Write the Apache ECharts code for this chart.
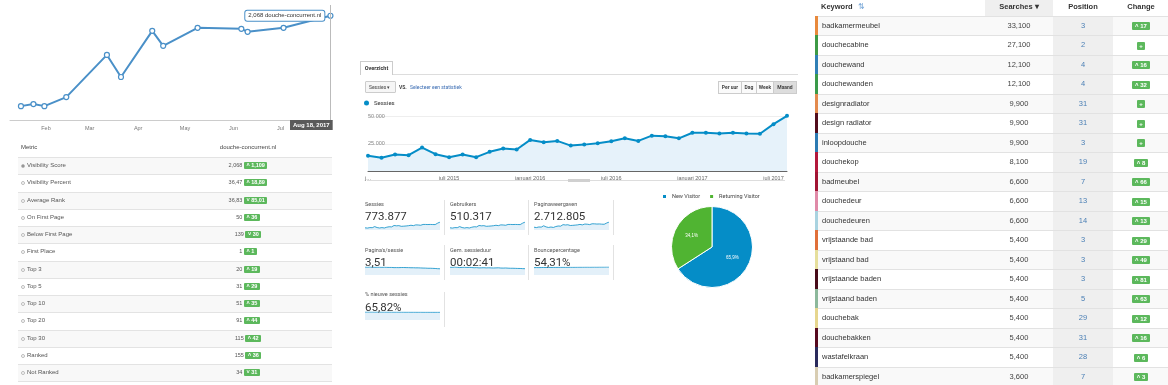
<!DOCTYPE html>
<html><head><meta charset="utf-8">
<script src="https://cdn.jsdelivr.net/npm/echarts@6/dist/echarts.min.js"></script>
<style>
html,body{margin:0;padding:0;background:#fff;width:1168px;height:385px;overflow:hidden;}
#c{position:absolute;left:0;top:0;width:1168px;height:385px;}
#ov{position:absolute;left:0;top:0;width:1168px;height:385px;}
.abs{position:absolute;white-space:nowrap;box-sizing:border-box;}
.ls{font-family:"Liberation Sans",Arial,sans-serif;}
.rb{font-family:Roboto,"Liberation Sans",Arial,sans-serif;}
.badge{display:inline-block;background:#5cb85c;color:#fff;font-weight:bold;border-radius:1px;vertical-align:middle;}
</style></head><body>
<div id="c"></div>
<div id="ov"></div>
<script>
// ---------------- DATA ----------------
// Left: visibility score over time
const visDates  = ['2017-01-16','2017-01-24','2017-01-31','2017-02-14','2017-03-12','2017-03-21','2017-04-10','2017-04-17','2017-05-09','2017-06-06','2017-06-10','2017-07-03','2017-08-02'];
const visScores = [960, 985, 960, 1071, 1588, 1317, 1883, 1699, 1920, 1908, 1871, 1920, 2068];
const visDomain = 'douche-concurrent.nl';
const visPointerLabel = 'Aug 18, 2017';
const monthShort = ['Jan','Feb','Mar','Apr','May','Jun','Jul','Aug','Sep','Oct','Nov','Dec'];

// Left: metric table
const metricNames   = ['Visibility Score','Visibility Percent','Average Rank','On First Page','Below First Page','First Place','Top 3','Top 5','Top 10','Top 20','Top 30','Ranked','Not Ranked'];
const metricValues  = ['2,068','36,47','36,83','50','139','1','20','31','51','91','115','155','34'];
const metricChanges = ['1,109','18,89','85,01','36','30','1','19','29','35','44','42','36','31'];
const metricDirs    = ['up','up','down','up','down','up','up','up','up','up','up','up','down'];

// Middle: sessions per month
const dutchMonths = ['januari','februari','maart','april','mei','juni','juli','augustus','september','oktober','november','december'];
const sessionMonths = [];
for (let y = 2015; y <= 2017; y++) for (let m = 0; m < 12; m++) { if (y === 2017 && m > 7) break; sessionMonths.push(dutchMonths[m] + ' ' + y); }
const sessionValues = [13900,12100,15150,14550,21500,15450,12700,15150,12700,17600,20600,19700,28500,26400,27600,23300,24200,25500,27300,30000,27600,32400,31800,30000,35100,35100,34500,35100,34500,34200,43000,50600];
const sessionYTicks = [0, 25000, 50000];

// Middle: KPI tiles
const tileNames  = ['Sessies','Gebruikers','Paginaweergaven',"Pagina's/sessie",'Gem. sessieduur','Bouncepercentage','% nieuwe sessies'];
const tileValues = ['773.877','510.317','2.712.805','3,51','00:02:41','54,31%','65,82%'];
const sparkGebruikers = [9200,8000,10000,9600,14200,10200,8400,10000,8400,11600,13600,13000,18800,17400,18200,15400,16000,16800,18000,19800,18200,21400,21000,19800,23200,23200,22800,23200,22800,22600,28400,33400];
const sparkPageviews  = [52000,45000,56000,54000,78000,57000,47000,55000,47000,64000,74000,71000,99000,93000,97000,83000,86000,90000,95000,103000,95000,110000,107000,100000,115000,114000,110000,112000,108000,106000,128000,148000];
const sparkPagesPerSession = [3.8,3.7,3.8,3.75,3.65,3.7,3.7,3.65,3.7,3.65,3.6,3.6,3.5,3.52,3.5,3.55,3.55,3.52,3.5,3.45,3.45,3.4,3.4,3.35,3.3,3.28,3.2,3.2,3.15,3.1,3.0,2.95];
const sparkDuration   = [175,170,178,172,165,170,172,168,170,166,162,164,158,160,162,158,160,158,156,158,160,155,154,156,152,150,150,148,146,145,142,140];
const sparkBounce     = [52.0,52.5,52.2,52.6,53.0,52.8,53.2,53.0,53.5,53.6,53.8,54.0,54.2,54.0,54.3,54.5,54.4,54.6,54.8,55.0,54.9,55.2,55.3,55.1,55.4,55.6,55.5,55.8,55.9,56.0,56.2,56.4];
const sparkNewPct     = [67.0,66.8,67.1,66.9,66.5,66.7,66.6,66.4,66.6,66.3,66.2,66.0,65.8,65.9,65.7,65.8,65.6,65.5,65.6,65.4,65.5,65.3,65.2,65.4,65.1,65.0,65.2,65.0,64.9,65.0,65.1,65.2];
const sparkData = [sessionValues, sparkGebruikers, sparkPageviews, sparkPagesPerSession, sparkDuration, sparkBounce, sparkNewPct];

// Middle: visitor pie
const visitorTypes  = ['New Visitor','Returning Visitor'];
const visitorShares = [65.9, 34.1];

// Right: keyword table
const keywords  = ['badkamermeubel','douchecabine','douchewand','douchewanden','designradiator','design radiator','inloopdouche','douchekop','badmeubel','douchedeur','douchedeuren','vrijstaande bad','vrijstaand bad','vrijstaande baden','vrijstaand baden','douchebak','douchebakken','wastafelkraan','badkamerspiegel'];
const searches  = ['33,100','27,100','12,100','12,100','9,900','9,900','9,900','8,100','6,600','6,600','6,600','5,400','5,400','5,400','5,400','5,400','5,400','5,400','3,600'];
const positions = [3,2,4,4,31,31,3,19,7,13,14,3,3,3,5,29,31,28,7];
const changes   = ['17','+','16','32','+','+','+','8','66','15','13','29','49','81','63','12','16','6','3'];

// ---------------- STYLES ----------------
const stripeColors = ['#e8893c','#3d9a45','#2f7fb5','#3a9a4a','#e38a4d','#520d1c','#2b7ab2','#b3183c','#a11433','#e08aa8','#a9d3e0','#e0703a','#e6df9c','#480c1a','#8cb89b','#e6d68e','#56091f','#2a2a5c','#d8cdb2'];
const gaBlue = '#058dc7', gaGreen = '#50b432', visBlue = '#4a90c8';

// ---------------- CHART ----------------
const chart = echarts.init(document.getElementById('c'));
const sparkPos = [[365,222],[450,222],[534,222],[365,267],[450,267],[534,267],[365,312]];

const grid = [
  {left:10, top:5, width:322, height:115},
  {left:368, top:116.5, width:419, height:54.5}
];
const xAxis = [
  {type:'time', gridIndex:0, min:'2017-01-09', max:'2017-08-03',
   minInterval:28*86400000, maxInterval:31*86400000,
   axisLine:{lineStyle:{color:'#ccc'}}, axisTick:{show:false}, splitLine:{show:false},
   axisLabel:{fontSize:5.5, color:'#777', margin:5, showMinLabel:false, showMaxLabel:false,
     formatter:function(v){ const d=new Date(v); return d.getMonth()===7 ? '' : monthShort[d.getMonth()]; }}},
  {type:'category', gridIndex:1, data:sessionMonths, boundaryGap:false,
   axisLine:{lineStyle:{color:'#666', width:1}}, axisTick:{show:false},
   axisLabel:{fontSize:5.5, color:'#666', margin:4,
     interval:function(i){ return i % 6 === 0; },
     formatter:function(v,i){ return i === 0 ? v.charAt(0) + '...' : v; }}}
];
const yAxis = [
  {type:'value', gridIndex:0, min:790, max:2200, show:false},
  {type:'value', gridIndex:1, min:sessionYTicks[0], max:sessionYTicks[2], interval:sessionYTicks[1],
   axisLine:{show:false}, axisTick:{show:false}, splitLine:{lineStyle:{color:'#eee'}},
   axisLabel:{inside:true, margin:0, fontSize:5.5, color:'#888',
     formatter:function(v){ return v === 0 ? '' : v.toLocaleString('nl-NL'); }}}
];
const last = visScores.length - 1;
const series = [
  {type:'line', name:'Visibility', xAxisIndex:0, yAxisIndex:0,
   data: visDates.map((d,i)=> i===last ? {value:[d,visScores[i]],
       label:{show:true, position:'left', distance:3,
         formatter:function(p){ return p.value[1].toLocaleString('en-US') + ' ' + visDomain; },
         fontSize:6, color:'#333', backgroundColor:'#fff', borderColor:visBlue, borderWidth:1, borderRadius:2, padding:[2,3]}}
     : [d, visScores[i]]),
   symbol:'circle', symbolSize:5, showSymbol:true,
   itemStyle:{color:'#fff', borderColor:visBlue, borderWidth:1.2},
   lineStyle:{color:visBlue, width:2},
   markLine:{silent:true, symbol:'none', label:{show:false}, lineStyle:{color:'#bbb', width:1, type:'solid'},
     data:[{xAxis: visDates[last]}]},
   z:3},
  {type:'line', name:'Sessies', xAxisIndex:1, yAxisIndex:1, data:sessionValues, clip:false,
   symbol:'circle', symbolSize:4, itemStyle:{color:gaBlue}, lineStyle:{color:gaBlue, width:2},
   areaStyle:{color:'#e6f2fa', opacity:1}}
];
sparkPos.forEach((p,k)=>{
  grid.push({left:p[0], top:p[1], width:75, height:8});
  xAxis.push({type:'category', gridIndex:k+2, data:sessionMonths, boundaryGap:false, show:false});
  yAxis.push({type:'value', gridIndex:k+2, min:0, max:'dataMax', show:false});
  series.push({type:'line', name:tileNames[k] + ' trend', xAxisIndex:k+2, yAxisIndex:k+2, data:sparkData[k],
    symbol:'none', lineStyle:{color:gaBlue, width:0.8}, areaStyle:{color:'#e3f0f9', opacity:1}, silent:true});
});
series.push({type:'pie', name:'Bezoekers', center:[712,247], radius:40.5, startAngle:90, clockwise:true,
  data: visitorTypes.map((n,i)=>({name:n, value:visitorShares[i]})),
  color:[gaBlue, gaGreen],
  itemStyle:{borderColor:'#fff', borderWidth:1},
  label:{show:true, position:'inside', fontSize:4.5, color:'#fff',
    formatter:function(p){ return p.value.toFixed(1).replace('.',',') + '%'; }},
  labelLine:{show:false}});

chart.setOption({
  animation:false,
  grid, xAxis, yAxis, series,
  legend:[
    {data:['Sessies'], left:364, top:100, icon:'circle', itemWidth:5, itemHeight:5, padding:0,
     textStyle:{fontSize:6, color:'#333', fontFamily:'Roboto'}},
    {data:visitorTypes, left:661, top:193, icon:'rect', itemWidth:5, itemHeight:5, itemGap:8, padding:0,
     textStyle:{fontSize:5.5, color:'#444', fontFamily:'Roboto'}}
  ],
  graphic:[
    {type:'text', left:290, top:120, z:100,
     style:{text:visPointerLabel, fill:'#fff', font:'bold 6px "Liberation Sans"', backgroundColor:'#5a5a5a', padding:[2,3]}}
  ]
});

// ---------------- HTML PARTS (tables & panels) ----------------
const ov = document.getElementById('ov');
function add(css, text, cls, html){
  const d = document.createElement('div');
  d.className = 'abs ' + (cls || '');
  d.style.cssText = css;
  if (html != null) d.innerHTML = html; else if (text != null) d.textContent = text;
  ov.appendChild(d); return d;
}

// Left table
add('left:21px;top:141px;height:12px;line-height:12px;font-size:6px;color:#444;', 'Metric', 'ls');
add('left:165px;width:166px;top:141px;height:12px;line-height:12px;text-align:center;font-size:6px;color:#444;', visDomain, 'ls');
metricNames.forEach((n,i)=>{
  const top = 157 + i*17.25;
  add(`left:18px;top:${top}px;width:314px;height:17.25px;border-top:1px solid #e3e3e3;background:${i%2?'#fff':'#f8f8f8'};`);
  add(`left:21px;top:${top+7}px;width:4px;height:4px;border:0.7px solid #bbb;border-radius:50%;background:${i===0?'#888':'#fff'};`);
  add(`left:27px;top:${top}px;height:17.25px;line-height:17.25px;font-size:6px;color:#555;`, n, 'ls');
  const arrow = metricDirs[i] === 'up' ? '&#708;' : '&#709;';
  add(`left:165px;width:166px;top:${top}px;height:17.25px;line-height:17.25px;text-align:center;font-size:5.5px;color:#555;`,
      null, 'ls', metricValues[i] + ' <span class="badge" style="font-size:5.5px;line-height:7px;height:7px;padding:0 2.5px;">' + arrow + ' ' + metricChanges[i] + '</span>');
});
add(`left:18px;top:${157+13*17.25}px;width:314px;height:0;border-top:1px solid #e3e3e3;`);

// Middle header controls
add('left:393px;top:74px;width:405px;height:0;border-top:1px solid #ddd;');
add('left:360px;top:61px;width:33px;height:14px;border:1px solid #ccc;border-bottom:none;background:#fff;text-align:center;line-height:12px;font-size:5.5px;font-weight:bold;color:#333;', 'Overzicht', 'rb');
add('left:365px;top:81px;width:31px;height:12px;border:1px solid #ccc;border-radius:1px;background:#f6f6f6;line-height:10px;padding-left:3px;font-size:5px;color:#444;', 'Sessies  \u25BE', 'rb');
add('left:399px;top:81px;height:12px;line-height:12px;font-size:5px;font-weight:bold;color:#444;', 'VS.', 'rb');
add('left:410px;top:81px;height:12px;line-height:12px;font-size:5px;color:#3b6db3;', 'Selecteer een statistiek', 'rb');
const btns = [['Per uur',23],['Dag',15],['Week',17],['Maand',23]];
let bx = 718;
btns.forEach((b,i)=>{
  add(`left:${bx}px;top:81px;width:${b[1]+1}px;height:13px;border:1px solid #ccc;background:${i===3?'#ddd':'#fafafa'};text-align:center;line-height:11px;font-size:5px;font-weight:bold;color:#444;`, b[0], 'rb');
  bx += b[1];
});
// chart scroller
add('left:367px;top:180px;width:418px;height:0;border-top:1px solid #ddd;');
add('left:568px;top:179px;width:22px;height:3px;background:#d0d0d0;');

// KPI tiles
const colX = [365,450,534], labelY = [204,250,294], valY = [216,262,307];
tileNames.forEach((n,k)=>{
  const c = k % 3, r = Math.floor(k / 3);
  add(`left:${colX[c]}px;top:${labelY[r]-4}px;height:8px;line-height:8px;font-size:5.5px;color:#555;`, n, 'rb');
  add(`left:${colX[c]}px;top:${valY[r]-8}px;height:16px;line-height:16px;font-size:11.5px;color:#333;`, tileValues[k], 'rb');
});
[[444,200],[528,200],[613,200],[444,245],[528,245],[613,245],[444,292]].forEach(s=>{
  add(`left:${s[0]}px;top:${s[1]}px;width:0;height:35px;border-left:1px solid #e2e2e2;`);
});

// Right table
add('left:985px;top:0px;width:68px;height:15.7px;background:#efefef;');
add('left:821px;top:0px;height:15.7px;line-height:13px;font-size:7.5px;font-weight:bold;color:#333;', null, 'ls',
    'Keyword <span style="color:#79a8d8;font-weight:normal;margin-left:3px;">&#8645;</span>');
add('left:985px;width:68px;top:0px;height:15.7px;line-height:13px;text-align:center;font-size:7.5px;font-weight:bold;color:#333;', 'Searches \u25BE', 'ls');
add('left:1053px;width:60px;top:0px;height:15.7px;line-height:13px;text-align:center;font-size:7.5px;font-weight:bold;color:#333;', 'Position', 'ls');
add('left:1115px;width:52px;top:0px;height:15.7px;line-height:13px;text-align:center;font-size:7.5px;font-weight:bold;color:#333;', 'Change', 'ls');
keywords.forEach((kw,i)=>{
  const top = 15.7 + i*19.5;
  add(`left:815px;top:${top}px;width:353px;height:19.5px;border-top:1px solid #e2e2e2;background:${i%2?'#fff':'#f9f9f9'};`);
  add(`left:1053px;top:${top}px;width:60px;height:19.5px;border-top:1px solid #e2e2e2;background:#efefef;`);
  add(`left:815px;top:${top}px;width:3px;height:19.5px;background:${stripeColors[i]};`);
  add(`left:822px;top:${top}px;height:19.5px;line-height:19.5px;font-size:7.5px;color:#333;`, kw, 'ls');
  add(`left:985px;width:68px;top:${top}px;height:19.5px;line-height:19.5px;text-align:center;font-size:7.5px;color:#444;`, searches[i], 'ls');
  add(`left:1053px;width:60px;top:${top}px;height:19.5px;line-height:19.5px;text-align:center;font-size:7.5px;color:#4a7fb5;`, String(positions[i]), 'ls');
  const ch = changes[i] === '+' ? '+' : '&#708; ' + changes[i];
  add(`left:1115px;width:52px;top:${top}px;height:19.5px;line-height:19.5px;text-align:center;`, null, 'ls',
      '<span class="badge" style="font-size:6px;line-height:8px;height:8px;padding:0 ' + (changes[i]==='+'?'2.5':'3') + 'px;">' + ch + '</span>');
});
</script>
</body></html>
